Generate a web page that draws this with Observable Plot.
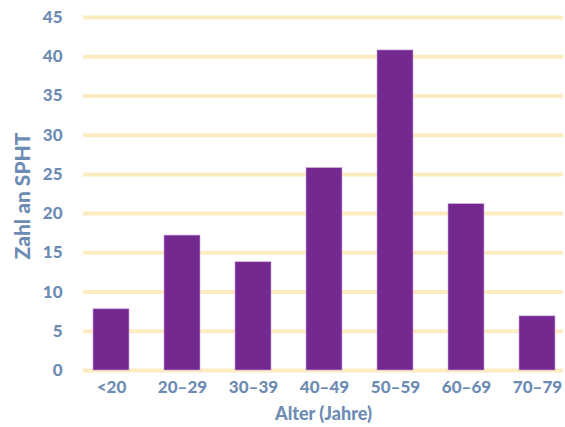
<!DOCTYPE html>
<html>
<head>
<meta charset="utf-8">
<script src="https://cdn.jsdelivr.net/npm/d3@7"></script>
<script src="https://cdn.jsdelivr.net/npm/@observablehq/plot@0.6"></script>
<style>
  html, body { margin: 0; padding: 0; background: #fff; }
  svg { display: block; }
</style>
</head>
<body>
<div id="chart"></div>
<script>
const categories = ["<20", "20–29", "30–39", "40–49", "50–59", "60–69", "70–79"];
const values = [7.8, 17.2, 13.8, 25.8, 40.8, 21.2, 6.9];
const yTicks = [0, 5, 10, 15, 20, 25, 30, 35, 40, 45];
const xLabel = "Alter (Jahre)";
const yLabel = "Zahl an SPHT";

const data = categories.map((c, i) => ({ category: c, value: values[i] }));
const labelColor = "#6d8cb4";

const chart = Plot.plot({
  width: 565,
  height: 427,
  marginLeft: 83,
  marginRight: 2,
  marginTop: 17,
  marginBottom: 57,
  style: { fontFamily: "Lato, sans-serif", fontWeight: 900, fontSize: "16px", color: labelColor, background: "#fff" },
  x: { domain: categories, range: [91, 556], paddingInner: 0.5, paddingOuter: 0 },
  y: { domain: [0, 45], ticks: yTicks },
  marks: [
    Plot.ruleY(yTicks, { stroke: "#fdecc2", strokeWidth: 4 }),
    Plot.barY(data, { x: "category", y: "value", fill: "#742990", stroke: "#c9a3da", strokeWidth: 0.6 }),
    Plot.axisY({ ticks: yTicks, tickSize: 0, tickPadding: 21, fontSize: 17, fontWeight: 900, label: null, style: { letterSpacing: "1.5px" } }),
    Plot.axisX({ tickSize: 0, tickPadding: 10, fontSize: 17, fontWeight: 900, label: null }),
    Plot.text([yLabel], { frameAnchor: "left", dx: -60, dy: 2, rotate: -90, fontSize: 21, fontWeight: 900, fill: labelColor, textAnchor: "middle", lineAnchor: "middle" }),
    Plot.text([xLabel], { frameAnchor: "bottom", dy: 44, fontSize: 18, fontWeight: 900, fill: labelColor, textAnchor: "middle", lineAnchor: "middle" })
  ]
});
document.getElementById("chart").appendChild(chart);
</script>
</body>
</html>
